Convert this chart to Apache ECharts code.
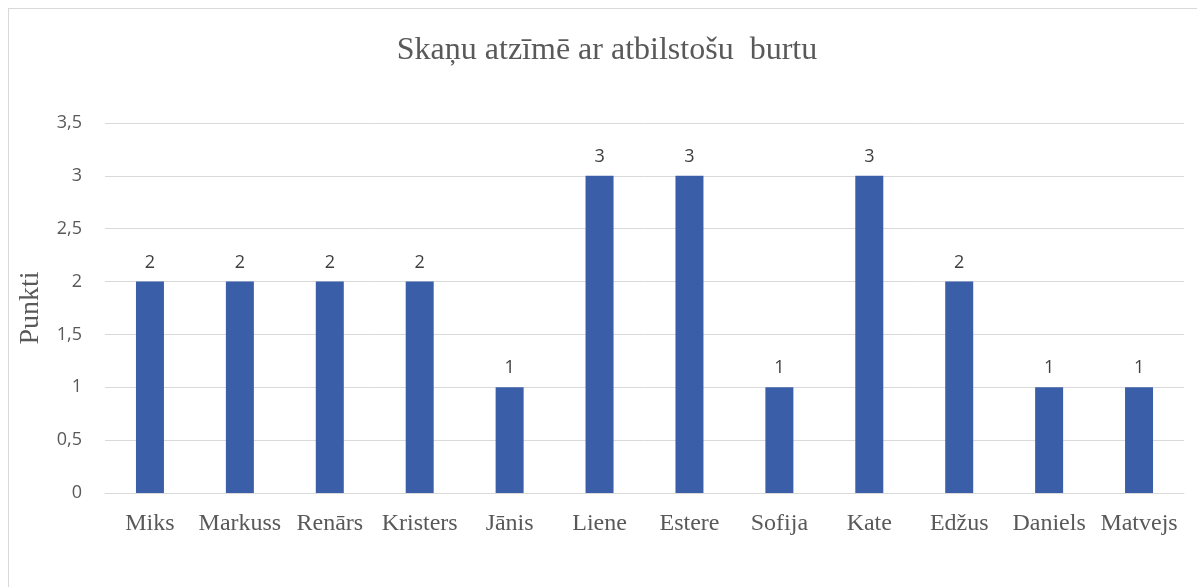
<!DOCTYPE html>
<html>
<head>
<meta charset="utf-8">
<script src="https://cdn.jsdelivr.net/npm/echarts@6/dist/echarts.min.js"></script>
<style>
html,body{margin:0;padding:0;background:#fff;}
#c{width:1197px;height:587px;}
#frame{position:absolute;left:8px;top:8px;width:1200px;height:600px;border:1px solid #d9d9d9;box-sizing:border-box;pointer-events:none;}
</style>
</head>
<body>
<div id="c"></div>
<div id="frame"></div>
<script>
var categories = ["Miks","Markuss","Renārs","Kristers","Jānis","Liene","Estere","Sofija","Kate","Edžus","Daniels","Matvejs"];
var values = [2,2,2,2,1,3,3,1,3,2,1,1];
var titleText = "Skaņu atzīmē ar atbilstošu  burtu";
var yAxisName = "Punkti";

var chart = echarts.init(document.getElementById('c'), null, {renderer:'canvas'});
chart.setOption({
  animation:false,
  backgroundColor:'#fff',
  title:{
    text:titleText,
    left:602, top:30, textAlign:'center',
    textStyle:{fontFamily:'Liberation Serif',fontSize:32,fontWeight:'normal',color:'#595959'}
  },
  grid:{left:105,right:13,top:123,bottom:94,containLabel:false},
  xAxis:{
    type:'category',data:categories,
    axisLine:{show:true,lineStyle:{color:'#d9d9d9',width:1}},
    axisTick:{show:false},
    axisLabel:{fontFamily:'Liberation Serif',fontSize:24,color:'#595959',margin:19,interval:0}
  },
  yAxis:{
    type:'value',min:0,max:3.5,interval:0.5,
    name:yAxisName,nameLocation:'middle',nameGap:74,nameRotate:90,nameMoveOverlap:false,
    nameTextStyle:{fontFamily:'Liberation Serif',fontSize:28,color:'#595959',verticalAlign:'middle'},
    axisLine:{show:false},axisTick:{show:false},
    splitLine:{lineStyle:{color:'#d9d9d9',width:1}},
    axisLabel:{fontFamily:'Open Sans',fontSize:18,color:'#595959',margin:23,
      formatter:function(v){return String(v).replace('.',',');}}
  },
  series:[{
    type:'bar',data:values,barWidth:28,
    itemStyle:{color:'#3a5fa8'},
    label:{show:true,position:'top',distance:10,fontFamily:'Open Sans',fontSize:18,color:'#404040'}
  }]
});
</script>
</body>
</html>
